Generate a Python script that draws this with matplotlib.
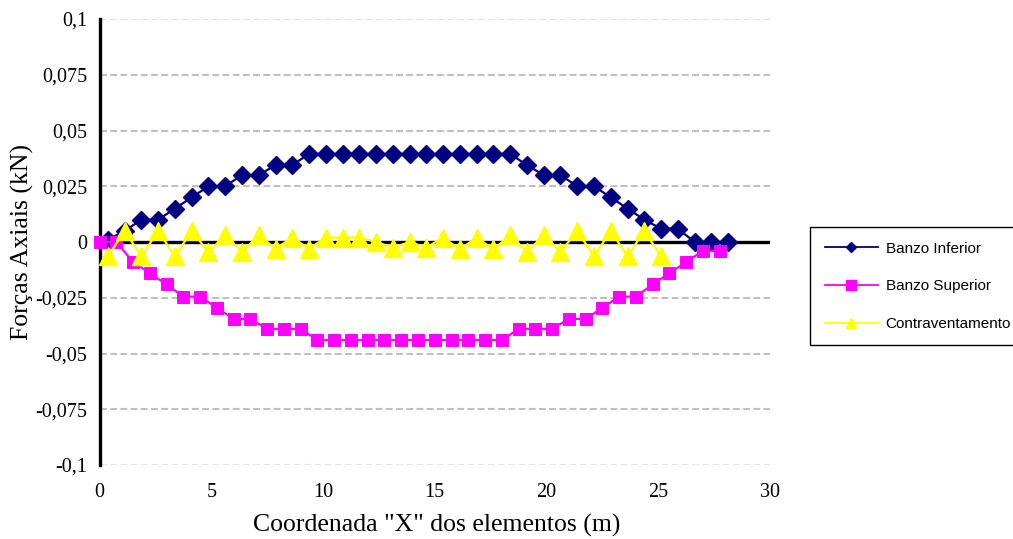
import matplotlib
matplotlib.use("Agg")
import matplotlib.pyplot as plt
from matplotlib.lines import Line2D

# Element x-coordinates (m)
x_inferior = [0.375, 1.125, 1.875, 2.625, 3.375, 4.125, 4.875, 5.625, 6.375, 7.125,
              7.875, 8.625, 9.375, 10.125, 10.875, 11.625, 12.375, 13.125, 13.875, 14.625,
              15.375, 16.125, 16.875, 17.625, 18.375, 19.125, 19.875, 20.625, 21.375, 22.125,
              22.875, 23.625, 24.375, 25.125, 25.875, 26.625, 27.375, 28.125]
x_superior = [0.0, 0.75, 1.5, 2.25, 3.0, 3.75, 4.5, 5.25, 6.0, 6.75,
              7.5, 8.25, 9.0, 9.75, 10.5, 11.25, 12.0, 12.75, 13.5, 14.25,
              15.0, 15.75, 16.5, 17.25, 18.0, 18.75, 19.5, 20.25, 21.0, 21.75,
              22.5, 23.25, 24.0, 24.75, 25.5, 26.25, 27.0, 27.75]
x_contra = [0.375, 1.125, 1.875, 2.625, 3.375, 4.125, 4.875, 5.625, 6.375, 7.125,
            7.875, 8.625, 9.375, 10.125, 10.875, 11.625, 12.375, 13.125, 13.875, 14.625,
            15.375, 16.125, 16.875, 17.625, 18.375, 19.125, 19.875, 20.625, 21.375, 22.125,
            22.875, 23.625, 24.375, 25.125]

# Axial forces (kN)
banzo_inferior = [0.001, 0.005, 0.010, 0.010, 0.015, 0.020, 0.025, 0.025, 0.030, 0.030,
                  0.0345, 0.0345, 0.0395, 0.0395, 0.0395, 0.0395, 0.0395, 0.0395, 0.0395, 0.0395,
                  0.0395, 0.0395, 0.0395, 0.0395, 0.0395, 0.0345, 0.030, 0.030, 0.025, 0.025,
                  0.020, 0.015, 0.010, 0.006, 0.006, 0.0, 0.0, 0.0]
banzo_superior = [0.0, 0.0, -0.009, -0.014, -0.019, -0.0245, -0.0245, -0.0295, -0.0345, -0.0345,
                  -0.039, -0.039, -0.039, -0.044, -0.044, -0.044, -0.044, -0.044, -0.044, -0.044,
                  -0.044, -0.044, -0.044, -0.044, -0.044, -0.039, -0.039, -0.039, -0.0345, -0.0345,
                  -0.0295, -0.0245, -0.0245, -0.019, -0.014, -0.009, -0.004, -0.004]
contraventamento = [-0.0065, 0.005, -0.0065, 0.005, -0.0065, 0.005, -0.0045, 0.003, -0.0045, 0.003,
                    -0.003, 0.002, -0.003, 0.002, 0.002, 0.002, 0.0, -0.0025, 0.0, -0.0025,
                    0.002, -0.0033, 0.002, -0.0033, 0.003, -0.0045, 0.003, -0.0045, 0.005, -0.0065,
                    0.005, -0.0065, 0.005, -0.0065]

series_names = ["Banzo Inferior", "Banzo Superior", "Contraventamento"]
x_ticks = [0, 5, 10, 15, 20, 25, 30]
x_tick_labels = ["0", "5", "10", "15", "20", "25", "30"]
y_ticks = [-0.1, -0.075, -0.05, -0.025, 0, 0.025, 0.05, 0.075, 0.1]
y_tick_labels = ["-0,1", "-0,075", "-0,05", "-0,025", "0", "0,025", "0,05", "0,075", "0,1"]

NAVY = "#000080"
MAGENTA = "#FF00FF"
YELLOW = "#FFFF00"

serif = ["Liberation Serif", "DejaVu Serif"]
sans = ["Liberation Sans", "DejaVu Sans"]

fig = plt.figure(figsize=(10.13, 5.39), dpi=100)
W, H = 1013, 539
ax = fig.add_axes([99.5 / W, 1 - 465 / H, 670.5 / W, 446 / H])

ax.set_xlim(0, 30)
ax.set_ylim(-0.1, 0.1)

# horizontal dashed gridlines
for yv in y_ticks:
    if yv == 0:
        continue
    col = "#E4E4E4" if abs(yv) > 0.09 else "#C0C0C0"
    ax.axhline(yv, color=col, lw=1.5, ls=(0, (3.3, 1.6)), zorder=1)

# zero line acting as the horizontal axis
ax.axhline(0, color="black", lw=2.4, zorder=2)

ax.plot(x_inferior, banzo_inferior, color=NAVY, lw=1.6, marker="D", ms=9,
        mfc=NAVY, mec=NAVY, mew=1, zorder=3, clip_on=False)
ax.plot(x_superior, banzo_superior, color=MAGENTA, lw=1.6, marker="s", ms=9,
        mfc=MAGENTA, mec=MAGENTA, mew=0.7, zorder=4, clip_on=False)
ax.plot(x_contra, contraventamento, color=YELLOW, lw=1.6, marker="^", ms=13.5,
        mfc=YELLOW, mec=YELLOW, mew=1, zorder=5, clip_on=False)

for s in ["top", "right", "bottom"]:
    ax.spines[s].set_visible(False)
ax.spines["left"].set_linewidth(2.4)
ax.spines["left"].set_color("black")
ax.spines["left"].set_zorder(2.5)

ax.set_xticks(x_ticks)
ax.set_xticklabels(x_tick_labels, family=serif, fontsize=14.5)
ax.set_yticks(y_ticks)
ax.set_yticklabels(y_tick_labels, family=serif, fontsize=14.5)
ax.tick_params(axis="x", length=0, pad=13)
ax.tick_params(axis="y", length=0, pad=9)

ax.set_xlabel('Coordenada "X" dos elementos (m)', family=serif, fontsize=18.5)
ax.xaxis.label.set_va("center")
ax.xaxis.set_label_coords((437 - 99.5) / 670.5, (465 - 525) / 446)
ax.set_ylabel("Forças Axiais (kN)", family=serif, fontsize=18.5)
ax.yaxis.label.set_va("center")
ax.yaxis.set_label_coords((22 - 99.5) / 670.5, 0.5)

handles = [
    Line2D([], [], color=NAVY, lw=1.3, marker="D", ms=5.5, mfc=NAVY, mec=NAVY),
    Line2D([], [], color=MAGENTA, lw=1.3, marker="s", ms=6.5, mfc=MAGENTA, mec=MAGENTA),
    Line2D([], [], color=YELLOW, lw=1.3, marker="^", ms=7.5, mfc=YELLOW, mec=YELLOW),
]
leg = fig.legend(handles, series_names, loc="upper left",
                 bbox_to_anchor=(810 / W, 1 - 227 / H), borderaxespad=0,
                 prop={"family": sans, "size": 11}, frameon=True, fancybox=False,
                 edgecolor="black", framealpha=1, handlelength=3.5, handletextpad=0.5,
                 borderpad=0.95, labelspacing=1.55)
leg.get_frame().set_linewidth(1.0)

fig.savefig("out.png", dpi=100)
